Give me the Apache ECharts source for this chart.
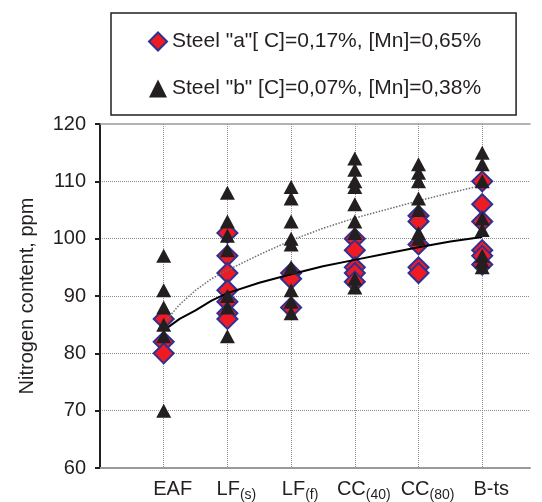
<!DOCTYPE html>
<html>
<head>
<meta charset="utf-8">
<script src="https://cdn.jsdelivr.net/npm/echarts@6/dist/echarts.min.js"></script>
<style>
  html, body { margin: 0; padding: 0; background: #fff; }
  #chart { width: 542px; height: 502px; }
</style>
</head>
<body>
<div id="chart"></div>
<script>
// process stages, placed at x = 1..6
var stageMain = ['EAF', 'LF', 'LF', 'CC', 'CC', 'B-ts']
var stageSub = ['', '(s)', '(f)', '(40)', '(80)', '']

// nitrogen, ppm - one list per stage
var steelA = [
  [86, 82, 80],
  [101, 97, 94, 91, 89, 87, 86],
  [94, 93, 88],
  [100, 98, 95, 94, 92.5],
  [104, 103, 99, 95, 94],
  [110, 106, 103, 98, 97, 95.5]
]
var steelB = [
  [97, 91, 88, 85, 83, 70],
  [108, 103, 100.5, 98, 90, 88, 83],
  [109, 107, 103, 100, 99, 95, 91, 89, 87],
  [114, 112, 110, 109, 106, 103, 101, 93, 91.5],
  [113, 111.5, 110, 107, 105, 101, 100],
  [115, 113, 110, 103.5, 101.5, 97, 96, 95]
]

// trend lines
var trendX = [1, 1.25, 1.5, 1.75, 2, 2.5, 3, 3.5, 4, 4.5, 5, 5.5, 6]
var trendA = [84, 86, 87.5, 89.2, 90.5, 92.3, 93.8, 95.2, 96.3, 97.4, 98.5, 99.5, 100.3]
var trendB = [85.3, 88.5, 91, 93, 94.5, 97.2, 99.7, 101.8, 103.6, 105.1, 106.6, 108, 109.3]

var nameA = 'Steel "a"[ C]=0,17%, [Mn]=0,65%'
var nameB = 'Steel "b" [C]=0,07%, [Mn]=0,38%'

var font = 'Liberation Sans, Arial, sans-serif'
var ink = '#231f20'

function toPoints(groups) {
  var out = []
  groups.forEach(function (vals, i) {
    vals.forEach(function (v) { out.push([i + 1, v]) })
  })
  return out
}
function zip(xs, ys) {
  return xs.map(function (x, i) { return [x, ys[i]] })
}

var chart = echarts.init(document.getElementById('chart'))
chart.setOption({
  animation: false,
  textStyle: { fontFamily: font },
  legend: {
    data: [nameA, nameB],
    orient: 'vertical',
    left: 111,
    top: 13,
    padding: [18, 35, 16, 37],
    itemGap: 26,
    itemWidth: 18,
    itemHeight: 18,
    borderColor: ink,
    borderWidth: 1.5,
    backgroundColor: '#fff',
    textStyle: { fontSize: 21, color: ink, fontFamily: font }
  },
  grid: { left: 100, right: 12, top: 124, bottom: 34, outerBoundsMode: 'none' },
  xAxis: [
    {
      type: 'value',
      min: 0,
      max: 6.75,
      interval: 1,
      axisLine: { lineStyle: { color: '#9a9a9a', width: 2 } },
      axisTick: { show: false },
      splitLine: {
        show: true,
        showMinLine: false,
        showMaxLine: false,
        lineStyle: { color: '#8c8c8c', type: 'dotted', width: 1 }
      },
      axisLabel: {
        margin: 14,
        padding: [0, 0, 0, 18],
        formatter: function (v) {
          if (v !== Math.round(v) || v < 1 || v > 6) return ''
          var i = v - 1
          if (!stageSub[i]) return '{m|' + stageMain[i] + '}'
          return '{m|' + stageMain[i] + '}{s|' + stageSub[i] + '}'
        },
        rich: {
          m: { fontSize: 20, color: ink, fontFamily: font, lineHeight: 20, padding: [0, 0, 6, 0] },
          s: { fontSize: 14, color: ink, fontFamily: font, lineHeight: 20, padding: [6, 0, 0, 0] }
        }
      }
    },
    {
      type: 'value',
      position: 'top',
      min: 0,
      max: 6.75,
      axisLine: { show: true, lineStyle: { color: '#9a9a9a', width: 1.5 } },
      axisTick: { show: false },
      axisLabel: { show: false },
      splitLine: { show: false }
    }
  ],
  yAxis: {
    type: 'value',
    min: 60,
    max: 120,
    interval: 10,
    name: 'Nitrogen content, ppm',
    nameLocation: 'middle',
    nameGap: 63,
    nameTextStyle: { fontSize: 20, color: ink, fontFamily: font },
    axisLine: { show: true, lineStyle: { color: ink, width: 2 } },
    axisTick: { show: true, length: 5, lineStyle: { color: ink, width: 2 } },
    axisLabel: { fontSize: 20, color: ink, margin: 14, fontFamily: font },
    splitLine: {
      show: true,
      showMinLine: false,
      showMaxLine: false,
      lineStyle: { color: '#8c8c8c', type: 'dotted', width: 1 }
    }
  },
  series: [
    {
      name: nameA,
      type: 'scatter',
      symbol: 'diamond',
      symbolSize: [20, 20],
      itemStyle: { color: '#ed1c24', borderColor: '#2e3192', borderWidth: 2, opacity: 1 },
      data: toPoints(steelA),
      z: 2
    },
    {
      type: 'line',
      data: zip(trendX, trendA),
      showSymbol: false,
      silent: true,
      lineStyle: { color: '#000', width: 2 },
      z: 3
    },
    {
      type: 'line',
      data: zip(trendX, trendB),
      showSymbol: false,
      silent: true,
      lineStyle: { color: '#6d6d6d', width: 1.5, type: 'dotted' },
      z: 3
    },
    {
      name: nameB,
      type: 'scatter',
      symbol: 'triangle',
      symbolSize: [15, 14],
      itemStyle: { color: ink, opacity: 1 },
      data: toPoints(steelB),
      z: 4
    }
  ]
})
</script>
</body>
</html>
